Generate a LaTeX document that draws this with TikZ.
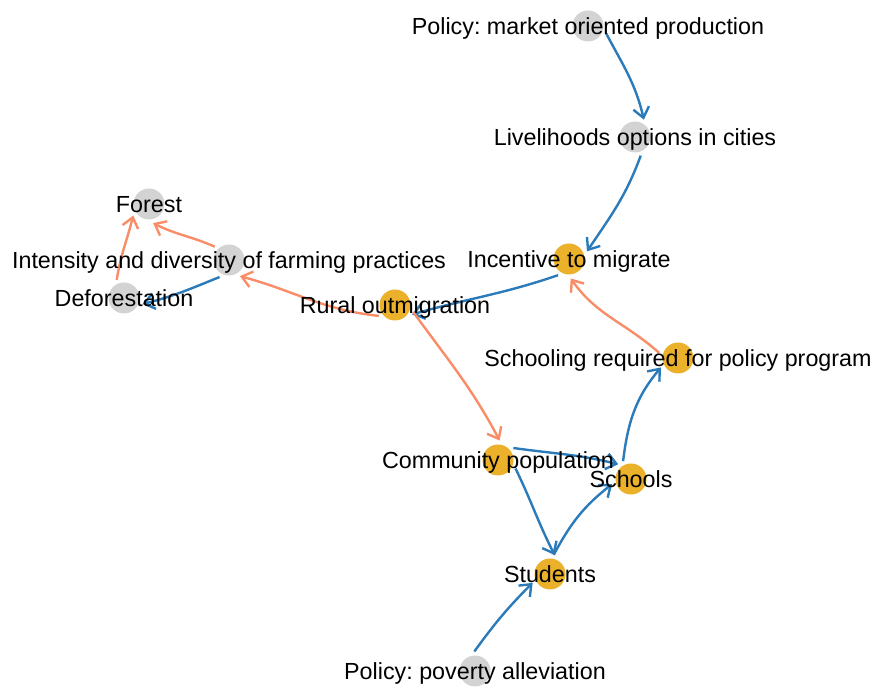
\documentclass[tikz,border=0pt]{standalone}
\usepackage{fontspec}
\setmainfont{Liberation Sans}
\usetikzlibrary{arrows.meta}
\definecolor{eblue}{HTML}{2B7BBA}
\definecolor{eorange}{HTML}{F88D67}
\definecolor{vgold}{HTML}{EBB12A}
\definecolor{vgray}{HTML}{D3D3D3}
\frenchspacing
\begin{document}
\begin{tikzpicture}[x=1pt,y=1pt,
  vert/.style={circle,minimum size=31pt,inner sep=0pt,outer sep=4pt},
  gv/.style={vert,fill=vgray},
  ov/.style={vert,fill=vgold},
  lab/.style={font=\fontsize{23.3}{28}\selectfont,inner sep=0pt,text height=18pt,text depth=0pt},
  lnk/.style={line width=2.4pt,-{Straight Barb[length=10pt,width=16pt]}},
  bluelnk/.style={lnk,draw=eblue},
  orglnk/.style={lnk,draw=eorange}]
\useasboundingbox (0,0) rectangle (881,688);
% vertices
\node[gv] (mkt) at (588,662) {};
\node[gv] (liv) at (635,551) {};
\node[ov] (inc) at (569,429) {};
\node[gv] (forest) at (149,484) {};
\node[gv] (inten) at (229,428) {};
\node[gv] (defor) at (124,390) {};
\node[ov] (rural) at (395,383) {};
\node[ov] (sreq) at (678,330) {};
\node[ov] (comm) at (498,228) {};
\node[ov] (schools) at (631,209) {};
\node[ov] (students) at (550,114) {};
\node[gv] (pov) at (475,17) {};
% edges
\draw[bluelnk] (mkt.-22) to[out=-62,in=103] (liv.63);
\draw[bluelnk] (liv.-73) to[out=-110,in=56] (inc.23);
\draw[bluelnk] (inc.-124) to[out=-161,in=16] (rural.-29);
\draw[orglnk] (sreq.165) to[out=138,in=-55] (inc.-85);
\draw[orglnk] (rural.-146) to[out=174,in=-15] (inten.-56);
\draw[orglnk] (inten.137) to[out=156,in=-27] (forest.-78);
\draw[bluelnk] (inten.-119) to[out=-158,in=14] (defor.-18);
\draw[orglnk] (defor.112) to[out=81,in=-104] (forest.-144);
\draw[orglnk] (rural.-21) to[out=-54,in=118] (comm.85);
\draw[bluelnk] (comm.38) to[out=-8,in=166] (schools.131);
\draw[bluelnk] (comm.-26) to[out=-64,in=117] (students.76);
\draw[bluelnk] (students.79) to[out=62,in=-142] (schools.-165);
\draw[bluelnk] (schools.114) to[out=83,in=-130] (sreq.-151);
\draw[bluelnk] (pov.92) to[out=54,in=-135] (students.-153);
% labels
\node[lab] (mkt-l) at (mkt) {Policy: market oriented production};
\node[lab] (liv-l) at (liv) {Livelihoods options in cities};
\node[lab] (inc-l) at (inc) {Incentive to migrate};
\node[lab] (forest-l) at (forest) {Forest};
\node[lab] (inten-l) at (inten) {Intensity and diversity of farming practices};
\node[lab] (defor-l) at (defor) {Deforestation};
\node[lab] (rural-l) at (rural) {Rural outmigration};
\node[lab] (sreq-l) at (sreq) {Schooling required for policy program};
\node[lab] (comm-l) at (comm) {Community population};
\node[lab] (schools-l) at (schools) {Schools};
\node[lab] (students-l) at (students) {Students};
\node[lab] (pov-l) at (pov) {Policy: poverty alleviation};
\end{tikzpicture}
\end{document}
